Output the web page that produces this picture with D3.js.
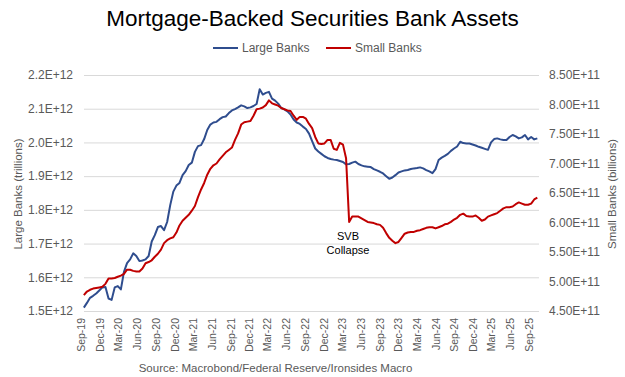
<!DOCTYPE html>
<html>
<head>
<meta charset="utf-8">
<script src="https://cdn.jsdelivr.net/npm/d3@7"></script>
<style>
  body { margin: 0; background: #fff; }
  svg text { font-family: "Liberation Sans", Arial, sans-serif; }
</style>
</head>
<body>
<div id="chart"></div>
<script>
// Mortgage-Backed Securities Bank Assets – large vs small banks (semi-monthly readings)
const START_DATE = "2019-09-15";
const STEP_DAYS = 15.1;

// Large banks, $ trillions (left axis)
const largeBanks = [
  1.510, 1.524, 1.539, 1.545, 1.552, 1.561, 1.570, 1.571, 1.537, 1.533,
  1.570, 1.574, 1.564, 1.616, 1.642, 1.653, 1.671, 1.663, 1.648, 1.650,
  1.653, 1.663, 1.706, 1.725, 1.749, 1.752, 1.740, 1.764, 1.814, 1.854,
  1.872, 1.880, 1.903, 1.915, 1.933, 1.940, 1.972, 1.989, 1.992, 2.010,
  2.037, 2.053, 2.059, 2.061, 2.069, 2.075, 2.077, 2.087, 2.095, 2.099,
  2.104, 2.110, 2.107, 2.102, 2.104, 2.108, 2.114, 2.158, 2.142, 2.147,
  2.150, 2.130, 2.124, 2.115, 2.102, 2.098, 2.092, 2.083, 2.068, 2.059,
  2.055, 2.047, 2.040, 2.026, 2.004, 1.982, 1.973, 1.966, 1.959, 1.954,
  1.951, 1.949, 1.948, 1.945, 1.942, 1.935, 1.936, 1.940, 1.943, 1.936,
  1.932, 1.929, 1.928, 1.927, 1.921, 1.917, 1.913, 1.908, 1.900, 1.892,
  1.896, 1.903, 1.911, 1.914, 1.917, 1.918, 1.921, 1.923, 1.924, 1.926,
  1.923, 1.918, 1.914, 1.909, 1.921, 1.948, 1.955, 1.960, 1.966, 1.975,
  1.982, 1.988, 2.002, 1.998, 1.997, 1.997, 1.994, 1.991, 1.987, 1.984,
  1.981, 1.978, 2.000, 2.010, 2.012, 2.009, 2.007, 2.007, 2.016, 2.022,
  2.018, 2.012, 2.015, 2.022, 2.009, 2.016, 2.009, 2.012
];

// Small banks, $ billions (right axis)
const smallBanks = [
  477, 483, 486, 488, 489, 490, 491, 496, 505, 505,
  506, 508, 510, 513, 520, 520, 518, 517, 517, 522,
  531, 533, 536, 542, 547, 554, 565, 570, 573, 575,
  583, 595, 603, 608, 613, 620, 628, 643, 656, 667,
  681, 691, 697, 700, 707, 713, 719, 723, 727, 740,
  751, 766, 770, 771, 772, 781, 792, 793, 795, 799,
  807, 802, 800, 798, 794, 792, 790, 789, 781, 774,
  779, 779, 776, 767, 760, 745, 734, 733, 734, 740,
  740, 725, 723, 735, 732, 709, 601, 610, 610, 610,
  607, 604, 601, 600, 599, 597, 596, 591, 582, 574,
  569, 565, 567, 574, 581, 583, 584, 584, 586, 587,
  589, 591, 592, 592, 590, 592, 594, 597, 598, 601,
  605, 608, 613, 615, 611, 610, 610, 612, 608, 603,
  605, 610, 612, 614, 616, 620, 624, 626, 626, 627,
  631, 634, 632, 630, 630, 632, 639, 642
];

const tickLabels = [
  "Sep-19", "Dec-19", "Mar-20", "Jun-20", "Sep-20", "Dec-20", "Mar-21", "Jun-21",
  "Sep-21", "Dec-21", "Mar-22", "Jun-22", "Sep-22", "Dec-22", "Mar-23", "Jun-23",
  "Sep-23", "Dec-23", "Mar-24", "Jun-24", "Sep-24", "Dec-24", "Mar-25", "Jun-25", "Sep-25"
];
const leftTicks  = [1.5, 1.6, 1.7, 1.8, 1.9, 2.0, 2.1, 2.2];
const rightTicks = [450, 500, 550, 600, 650, 700, 750, 800, 850];

const W = 625, H = 377;
const plot = { left: 84, right: 539, top: 75, bottom: 311 };
const grey = "#595959";
const blue = "#2F4D8E", red = "#C00000";

const parseTick = d3.timeParse("%b-%y");
const start = d3.timeParse("%Y-%m-%d")(START_DATE);
const dateAt = i => new Date(start.getTime() + i * STEP_DAYS * 864e5);

const x = d3.scaleTime()
  .domain([parseTick("Sep-19"), parseTick("Sep-25")])
  .range([81, 528.8]);
const yL = d3.scaleLinear().domain([1.5, 2.2]).range([plot.bottom, plot.top]);
const yR = d3.scaleLinear().domain([450, 850]).range([plot.bottom, plot.top]);

const svg = d3.select("#chart").append("svg")
  .attr("width", W).attr("height", H);

// Title
svg.append("text")
  .attr("x", W / 2).attr("y", 26)
  .attr("text-anchor", "middle")
  .attr("font-size", 22.5).attr("fill", "#000")
  .text("Mortgage-Backed Securities Bank Assets");

// Legend
const legend = [
  { name: "Large Banks", color: blue, x: 213 },
  { name: "Small Banks", color: red, x: 326 }
];
legend.forEach(l => {
  svg.append("line")
    .attr("x1", l.x).attr("x2", l.x + 25).attr("y1", 48).attr("y2", 48)
    .attr("stroke", l.color).attr("stroke-width", 2);
  svg.append("text")
    .attr("x", l.x + 29).attr("y", 52)
    .attr("font-size", 12).attr("fill", grey)
    .text(l.name);
});

// Grid (left axis ticks)
svg.append("g")
  .attr("transform", `translate(${plot.left},0)`)
  .call(d3.axisLeft(yL).tickValues(leftTicks).tickSize(-(plot.right - plot.left)).tickFormat(""))
  .call(g => g.select(".domain").remove())
  .selectAll(".tick line").attr("stroke", "#D9D9D9").attr("stroke-width", 1);

// Left axis labels
svg.append("g")
  .attr("transform", `translate(${plot.left},0)`)
  .call(d3.axisLeft(yL).tickValues(leftTicks).tickSize(0).tickPadding(11)
    .tickFormat(d => d3.format(".1e")(d * 1e12).toUpperCase()))
  .call(g => g.select(".domain").remove())
  .selectAll("text").attr("font-size", 12).attr("fill", grey)
  .style("font-family", '"Liberation Sans", Arial, sans-serif');

// Right axis labels
svg.append("g")
  .attr("transform", `translate(${plot.right},0)`)
  .call(d3.axisRight(yR).tickValues(rightTicks).tickSize(0).tickPadding(10)
    .tickFormat(d => d3.format(".2e")(d * 1e9).toUpperCase()))
  .call(g => g.select(".domain").remove())
  .selectAll("text").attr("font-size", 12).attr("fill", grey)
  .style("font-family", '"Liberation Sans", Arial, sans-serif');

// Bottom axis labels (rotated)
svg.append("g")
  .attr("transform", `translate(0,${plot.bottom})`)
  .call(d3.axisBottom(x).tickValues(tickLabels.map(parseTick)).tickSize(0)
    .tickFormat((d, i) => tickLabels[i]))
  .call(g => g.select(".domain").remove())
  .selectAll("text")
  .attr("font-size", 10.5).attr("fill", grey)
  .style("font-family", '"Liberation Sans", Arial, sans-serif')
  .attr("text-anchor", "end")
  .attr("transform", "rotate(-90)")
  .attr("x", -7).attr("y", 0).attr("dy", "0.35em");

// Axis titles
svg.append("text")
  .attr("transform", "translate(22,194) rotate(-90)")
  .attr("text-anchor", "middle").attr("font-size", 11.5).attr("fill", grey)
  .text("Large Banks (trillions)");
svg.append("text")
  .attr("transform", "translate(616,194) rotate(-90)")
  .attr("text-anchor", "middle").attr("font-size", 11.5).attr("fill", grey)
  .text("Small Banks (billions)");

// Lines
const lineL = d3.line().x((d, i) => x(dateAt(i))).y(d => yL(d));
const lineR = d3.line().x((d, i) => x(dateAt(i))).y(d => yR(d));

svg.append("path").datum(largeBanks)
  .attr("d", lineL).attr("fill", "none")
  .attr("stroke", blue).attr("stroke-width", 2).attr("stroke-linejoin", "round");
svg.append("path").datum(smallBanks)
  .attr("d", lineR).attr("fill", "none")
  .attr("stroke", red).attr("stroke-width", 2).attr("stroke-linejoin", "round");

// Annotation
const ann = svg.append("text")
  .attr("text-anchor", "middle").attr("font-size", 11).attr("fill", "#000");
ann.append("tspan").attr("x", 348).attr("y", 240).text("SVB");
ann.append("tspan").attr("x", 348).attr("y", 254).text("Collapse");

// Source
svg.append("text")
  .attr("x", 275.5).attr("y", 372)
  .attr("text-anchor", "middle").attr("font-size", 11.5).attr("fill", grey)
  .text("Source: Macrobond/Federal Reserve/Ironsides Macro");
</script>
</body>
</html>
